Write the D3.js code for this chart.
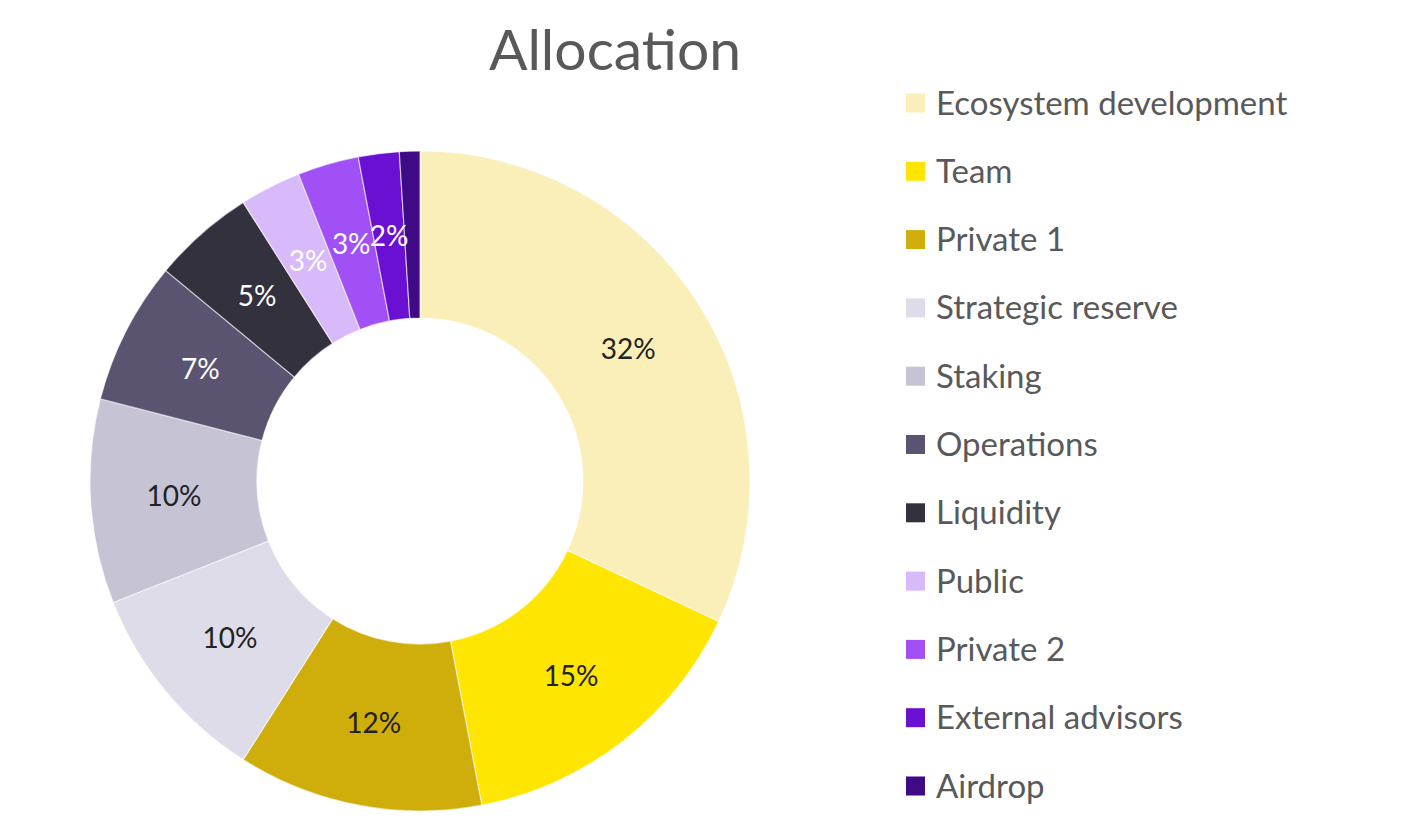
<!DOCTYPE html>
<html><head><meta charset="utf-8">
<script src="https://cdn.jsdelivr.net/npm/d3@7"></script>
<style>body{margin:0;background:#fff}svg{display:block}</style>
</head><body>
<svg id="c" width="1424" height="836"></svg>
<script>
const categories = ["Ecosystem development","Team","Private 1","Strategic reserve","Staking","Operations","Liquidity","Public","Private 2","External advisors","Airdrop"];
const values = [32,15,12,10,10,7,5,3,3,2,1];
const colors = ["#FAEEB9","#FFE502","#CFAE0B","#DEDCE8","#C6C3D5","#5A5470","#34313F","#D8B9F9","#A050F5","#6A10D2","#3E0A86"];
const labelColors = ["#222","#222","#222","#222","#222","#fff","#fff","#fff","#fff","#fff","#fff"];
const showLabel = [true,true,true,true,true,true,true,true,true,true,false];

const svg = d3.select("#c");
const font = "Lato, sans-serif";
const cx = 420, cy = 481, rO = 330, rI = 163;

svg.append("text").attr("x",615).attr("y",70).attr("text-anchor","middle")
  .attr("font-family",font).attr("font-size",57).attr("fill","#595959").text("Allocation");

const pie = d3.pie().sort(null).value(d=>d);
const arcs = pie(values);
const arc = d3.arc().innerRadius(rI).outerRadius(rO);
const g = svg.append("g").attr("transform",`translate(${cx},${cy})`);
g.selectAll("path").data(arcs).join("path")
  .attr("d",arc).attr("fill",(d,i)=>colors[i])
  .attr("stroke","#fff").attr("stroke-width",1.2).attr("stroke-opacity",0.6);
g.selectAll("text").data(arcs).join("text")
  .filter((d,i)=>showLabel[i])
  .attr("transform",d=>`translate(${arc.centroid(d)})`)
  .attr("text-anchor","middle").attr("dy","0.35em")
  .attr("font-family",font).attr("font-size",28)
  .attr("fill",(d,i)=>labelColors[i])
  .text(d=>d.data+"%");

const leg = svg.append("g");
const rowY = d3.scaleLinear().domain([0,categories.length-1]).range([103,786]);
const items = leg.selectAll("g").data(categories).join("g")
  .attr("transform",(d,i)=>`translate(906,${rowY(i)})`);
items.append("rect").attr("x",0).attr("y",-9.5).attr("width",19).attr("height",19)
  .attr("fill",(d,i)=>colors[i]);
items.append("text").attr("x",30).attr("dy","0.35em")
  .attr("font-family",font).attr("font-size",33).attr("fill","#595959").text(d=>d);
</script>
</body></html>
